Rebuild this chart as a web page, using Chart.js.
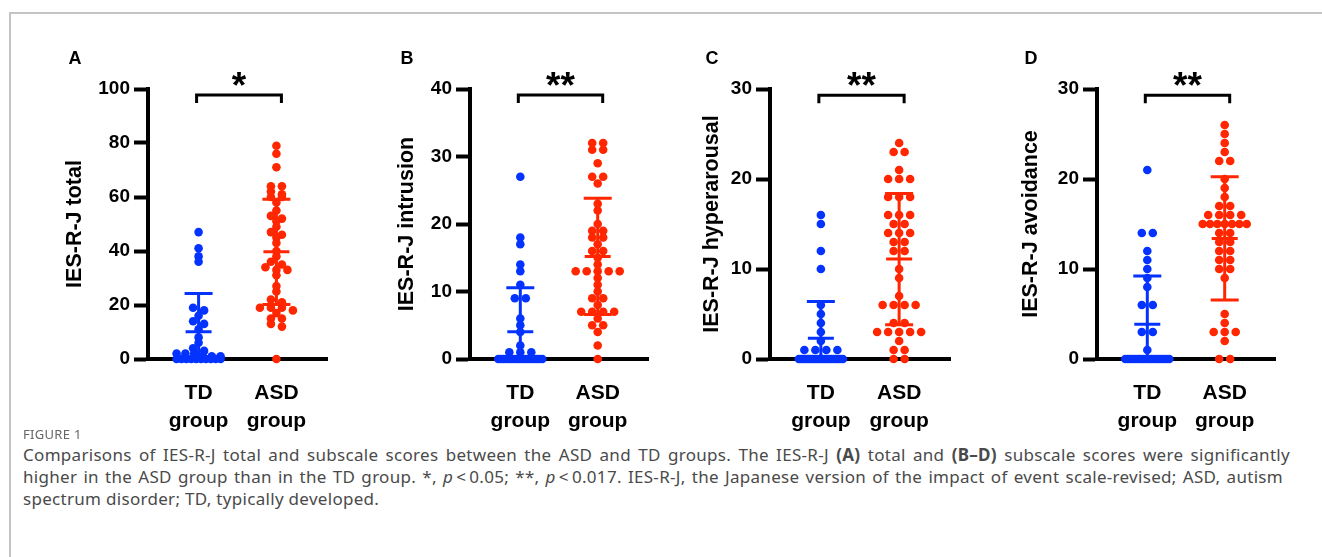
<!DOCTYPE html>
<html>
<head>
<meta charset="utf-8">
<script src="https://cdn.jsdelivr.net/npm/chart.js@4.4.1/dist/chart.umd.min.js"></script>
<style>
  body { margin: 0; width: 1322px; height: 557px; background: #fff; position: relative; overflow: hidden; }
  .frame { position: absolute; left: 9px; top: 12px; width: 1330px; height: 560px; border-top: 2px solid #c4c4c4; border-left: 2px solid #c4c4c4; }
  canvas { position: absolute; top: 40px; }
  .letter { position: absolute; top: 48px; font: bold 18px "Liberation Sans", Arial, sans-serif; color: #000; transform: translateX(-50%); }
  .fig { position: absolute; left: 23px; top: 425px; font: 13px "Noto Sans", sans-serif; color: #666; letter-spacing: 0.3px; }
  .cap { position: absolute; left: 23px; top: 444px; font: 17px/22px "Noto Sans", sans-serif; letter-spacing: 0.3px; color: #4a4a4a; white-space: nowrap; }
  .cap span { display: block; }
  .cap .j { text-align: justify; text-align-last: justify; white-space: normal; }
</style>
</head>
<body>
<div class="frame"></div>
<canvas id="c0"></canvas>
<canvas id="c1"></canvas>
<canvas id="c2"></canvas>
<canvas id="c3"></canvas>
<div class="fig">FIGURE 1</div>
<div class="cap"><span class="j" style="width:1267px">Comparisons of IES-R-J total and subscale scores between the ASD and TD groups. The IES-R-J <b>(A)</b> total and <b>(B–D)</b> subscale scores were significantly</span><span class="j" style="width:1260px">higher in the ASD group than in the TD group. *, <i>p</i>&thinsp;&lt;&thinsp;0.05; **, <i>p</i>&thinsp;&lt;&thinsp;0.017. IES-R-J, the Japanese version of the impact of event scale-revised; ASD, autism</span><span>spectrum disorder; TD, typically developed.</span></div>
<script>
// Data
const panelLetters = ['A', 'B', 'C', 'D'];
const yTitles = ['IES-R-J total', 'IES-R-J intrusion', 'IES-R-J hyperarousal', 'IES-R-J avoidance'];
const yMax = [100, 40, 30, 30];
const yStep = [20, 10, 10, 10];
const groupLabels = [['TD', 'group'], ['ASD', 'group']];
const sigMarks = ['*', '**', '**', '**'];

const tdTotal = [47, 41, 38, 36, 19, 18, 16, 14, 13, 11, 8, 6, 4, 3, 2, 2, 2, 1, 1, 1, 0, 0, 0, 0, 0, 0, 0, 0, 0, 0];
const asdTotal = [79, 76, 71, 64, 64, 62, 61, 60, 60, 58, 55, 53, 52, 51, 49, 47, 46, 45, 43, 40, 38, 36, 35, 34, 33, 33, 31, 27, 25, 22, 21, 19, 19, 19, 18, 17, 15, 15, 13, 12, 0];
const tdIntrusion = [27, 18, 17, 14, 13, 11, 9, 9, 6, 5, 4, 2, 1, 1, 1, 0, 0, 0, 0, 0, 0, 0, 0, 0, 0, 0, 0, 0, 0, 0, 0, 0, 0];
const asdIntrusion = [32, 32, 31, 31, 29, 27, 27, 26, 23, 22, 20, 19, 19, 18, 18, 17, 16, 16, 15, 14, 13, 13, 13, 13, 13, 12, 11, 10, 9, 9, 8, 7, 7, 7, 7, 6, 5, 5, 4, 2, 0];
const tdHyper = [16, 15, 12, 10, 6, 5, 4, 3, 2, 1, 1, 1, 1, 0, 0, 0, 0, 0, 0, 0, 0, 0, 0, 0, 0, 0, 0, 0, 0, 0, 0, 0, 0];
const asdHyper = [24, 23, 23, 21, 20, 20, 20, 18, 18, 18, 16, 16, 16, 15, 15, 14, 14, 14, 13, 13, 12, 12, 10, 9, 7, 6, 6, 6, 6, 4, 4, 3, 3, 3, 3, 3, 2, 1, 1, 0, 0];
const tdAvoid = [21, 14, 14, 12, 11, 10, 9, 8, 6, 6, 3, 3, 1, 0, 0, 0, 0, 0, 0, 0, 0, 0, 0, 0, 0, 0, 0, 0, 0, 0, 0];
const asdAvoid = [26, 25, 24, 23, 22, 22, 20, 19, 18, 17, 17, 16, 16, 16, 16, 15, 15, 15, 15, 15, 15, 15, 14, 14, 13, 13, 12, 12, 11, 11, 10, 10, 9, 5, 4, 3, 3, 3, 2, 0, 0];

const tdScores = [tdTotal, tdIntrusion, tdHyper, tdAvoid];
const asdScores = [asdTotal, asdIntrusion, asdHyper, asdAvoid];

// mean and SD bars as drawn in the figure
const tdMean = [10.1, 4.05, 2.3, 3.87];
const tdSD = [14.2, 6.5, 4.1, 5.35];
const asdMean = [39.7, 15.2, 11.1, 13.4];
const asdSD = [19.5, 8.6, 7.3, 6.85];
const bracketY = [97.8, 39.1, 29.3, 29.3];

// Layout / style
const TD_COLOR = '#0433FF';
const ASD_COLOR = '#FF2600';
const FONT = '"Liberation Sans", Arial, sans-serif';
const DOT_GAP = 11;
const MAX_HALF = 22;
const ROW_PX = 3;
const layout = [
	{ left: 62, width: 278, yAxisW: 86 },
	{ left: 394, width: 267, yAxisW: 76 },
	{ left: 699, width: 264, yAxisW: 71 },
	{ left: 1018, width: 270, yAxisW: 79 }
];

// put dots that sit within a few pixels of each other in one row, side by side
function swarm(values, center, chart) {
	const xs = chart.scales.x;
	const ys = chart.scales.y;
	const pxPerX = xs.getPixelForValue(1) - xs.getPixelForValue(0);
	const pxPerY = ys.getPixelForValue(0) - ys.getPixelForValue(1);
	const sorted = [...values].sort((a, b) => b - a);
	const rows = [];
	sorted.forEach((v) => {
		const row = rows[rows.length - 1];
		if (row && (row[0] - v) * pxPerY <= ROW_PX) row.push(v);
		else rows.push([v]);
	});
	const pts = [];
	rows.forEach((row) => {
		const k = row.length;
		const gap = k > 1 ? Math.min(DOT_GAP, (2 * MAX_HALF) / (k - 1)) : 0;
		row.forEach((v, j) => {
			pts.push({ x: center + ((j - (k - 1) / 2) * gap) / pxPerX, y: v });
		});
	});
	return pts;
}

const statsPlugin = {
	id: 'stats',
	afterDatasetsDraw(chart) {
		const i = chart.options.plugins.stats.panel;
		const { ctx, chartArea, scales: { x, y } } = chart;
		ctx.save();
		ctx.beginPath();
		ctx.rect(chartArea.left, chartArea.top - 10, chartArea.width, chartArea.height + 10);
		ctx.clip();
		ctx.lineWidth = 3;
		[[tdMean[i], tdSD[i], TD_COLOR], [asdMean[i], asdSD[i], ASD_COLOR]].forEach(([m, sd, color], g) => {
			const cx = x.getPixelForValue(g);
			const yHi = y.getPixelForValue(m + sd);
			const yLo = y.getPixelForValue(m - sd);
			const yM = y.getPixelForValue(m);
			ctx.strokeStyle = color;
			ctx.beginPath();
			ctx.moveTo(cx, yHi); ctx.lineTo(cx, yLo);
			ctx.moveTo(cx - 14, yHi); ctx.lineTo(cx + 14, yHi);
			ctx.moveTo(cx - 14, yLo); ctx.lineTo(cx + 14, yLo);
			ctx.moveTo(cx - 13, yM); ctx.lineTo(cx + 13, yM);
			ctx.stroke();
		});
		ctx.restore();
	},
	afterDraw(chart) {
		const i = chart.options.plugins.stats.panel;
		const { ctx, scales: { x, y } } = chart;
		const yb = y.getPixelForValue(bracketY[i]);
		const x0 = x.getPixelForValue(0) - 2;
		const x1 = x.getPixelForValue(1) + 5;
		ctx.save();
		ctx.strokeStyle = '#000';
		ctx.lineWidth = 3;
		ctx.beginPath();
		ctx.moveTo(x0, yb + 8); ctx.lineTo(x0, yb); ctx.lineTo(x1, yb); ctx.lineTo(x1, yb + 8);
		ctx.stroke();
		ctx.fillStyle = '#000';
		ctx.font = `bold 37px ${FONT}`;
		ctx.textAlign = 'center';
		ctx.textBaseline = 'alphabetic';
		ctx.fillText(sigMarks[i], (x0 + x1) / 2, yb + 3);
		ctx.restore();
	}
};

const charts = layout.map((lay, i) => {
	const canvas = document.getElementById('c' + i);
	canvas.width = lay.width;
	canvas.height = 395;
	canvas.style.left = lay.left + 'px';

	const letter = document.createElement('div');
	letter.className = 'letter';
	letter.textContent = panelLetters[i];
	letter.style.left = (lay.left + 13) + 'px';
	document.body.appendChild(letter);

	return new Chart(canvas.getContext('2d'), {
		type: 'scatter',
		data: {
			datasets: [
				{ data: tdScores[i].map((v) => ({ x: 0, y: v })), backgroundColor: TD_COLOR, pointRadius: 4.3, pointHoverRadius: 4.3, borderWidth: 0, clip: false },
				{ data: asdScores[i].map((v) => ({ x: 1, y: v })), backgroundColor: ASD_COLOR, pointRadius: 4.3, pointHoverRadius: 4.3, borderWidth: 0, clip: false }
			]
		},
		options: {
			responsive: false,
			animation: false,
			events: [],
			layout: { padding: { top: 49, right: 13, bottom: 0, left: 0 } },
			plugins: { legend: { display: false }, tooltip: { enabled: false }, stats: { panel: i } },
			scales: {
				x: {
					type: 'linear',
					min: -0.65,
					max: 1.65,
					afterFit: (s) => { s.height = 76; },
					afterBuildTicks: (s) => { s.ticks = [{ value: 0 }, { value: 1 }]; },
					grid: { display: false },
					border: { display: true, color: '#000', width: 4 },
					ticks: {
						padding: 12,
						color: '#000',
						maxRotation: 0,
						font: { family: FONT, size: 21, weight: 'bold', lineHeight: 1.333 },
						callback: (v) => groupLabels[v]
					}
				},
				y: {
					min: 0,
					max: yMax[i],
					afterFit: (s) => { s.width = lay.yAxisW; },
					grid: { display: true, drawOnChartArea: false, drawTicks: true, tickLength: 14, tickWidth: 4, tickColor: '#000', color: '#000' },
					border: { display: true, color: '#000', width: 4 },
					ticks: { stepSize: yStep[i], padding: 4, color: '#000', font: { family: FONT, size: 19, weight: 'bold' } },
					title: { display: true, text: yTitles[i], color: '#000', padding: 0, font: { family: FONT, size: 21.5, weight: 'bold' } }
				}
			}
		},
		plugins: [statsPlugin]
	});
});

// second pass: spread the dots now that the scales are known
charts.forEach((chart, i) => {
	chart.data.datasets[0].data = swarm(tdScores[i], 0, chart);
	chart.data.datasets[1].data = swarm(asdScores[i], 1, chart);
	chart.update('none');
});
</script>
</body>
</html>
